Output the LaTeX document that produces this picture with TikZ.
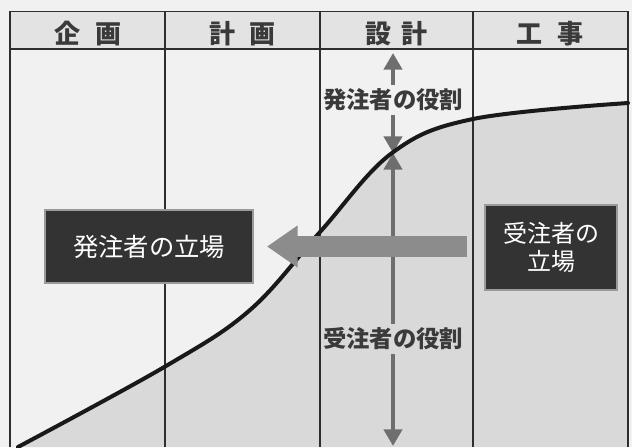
\documentclass[tikz,border=0pt]{standalone}
\usepackage{fontspec}
\newfontfamily\jp{Noto Sans CJK JP}
\usetikzlibrary{arrows.meta}
\definecolor{bgc}{HTML}{F1F1F1}
\definecolor{lowc}{HTML}{D9D9D9}
\definecolor{headc}{HTML}{E3E3E3}
\definecolor{framec}{HTML}{2E2E2E}
\definecolor{boxc}{HTML}{333333}
\definecolor{boxborder}{HTML}{9A9A9A}
\definecolor{bigarrc}{HTML}{8C8C8C}
\definecolor{varrc}{HTML}{6E6E6E}
\definecolor{labc}{HTML}{3A3A3A}
\tikzset{
  frameline/.style={draw=framec, line width=1.1pt},
  headtext/.style={font=\jp\bfseries\fontsize{19.5}{22}\selectfont, text=labc, inner sep=0pt},
  roletext/.style={font=\jp\bfseries\fontsize{17.5}{20}\selectfont, text=labc, inner sep=3pt},
  standbox/.style={draw=boxborder, line width=2.2pt, fill=boxc, text=white, align=center, inner sep=0pt},
  bigarrow/.style={draw=bigarrc, line width=15.75pt, -{Triangle[length=23pt,width=30pt]}},
  varrow/.style={draw=varrc, line width=3.6pt, -{Triangle[length=12.5pt,width=13.5pt]}},
  curveline/.style={draw=black!90, line width=3pt, line cap=round}
}
\def\curvepts{(18,447) (166,366) (250,310) (320,232) (392,153) (473,119) (628,103)}
\begin{document}
\begin{tikzpicture}[x=0.75pt,y=-0.75pt]
\useasboundingbox (0,0) rectangle (632,447);
\fill[bgc] (0,0) rectangle (632,447);
% header
\fill[headc] (10,11.5) rectangle (628,49);
% lower region below the curve
\fill[lowc] plot[smooth, tension=0.6] coordinates {\curvepts} -- (628,447) -- cycle;
% frame
\draw[frameline] (10,447) -- (10,11.5) -- (628,11.5) -- (628,447);
\draw[frameline] (10,49) -- (628,49);
\draw[frameline] (165,11.5) -- (165,447);
\draw[frameline] (320,11.5) -- (320,447);
\draw[frameline] (473,11.5) -- (473,447);
% header texts
\node[headtext] (h1) at (88,34) {企\hspace{0.55em}画};
\node[headtext] (h2) at (242.5,34) {計\hspace{0.55em}画};
\node[headtext] (h3) at (396.5,34) {設\hspace{0.4em}計};
\node[headtext] (h4) at (550,34) {工\hspace{0.55em}事};
% vertical role arrows
\node[roletext] (lab1) at (393,100) {発注者の役割};
\node[roletext] (lab2) at (393,339) {受注者の役割};
\coordinate (vtop) at (393,53);
\coordinate (vmid) at (393,153);
\coordinate (vbot) at (393,446);
\draw[varrow] (lab1) -- (vtop);
\draw[varrow] (lab1) -- (vmid);
\draw[varrow] (lab2) -- (vmid);
\draw[varrow] (lab2) -- (vbot);
% curve
\draw[curveline] plot[smooth, tension=0.6] coordinates {\curvepts};
% boxes
\node[standbox, minimum width=156pt, minimum height=54.75pt, font=\jp\fontsize{19}{22}\selectfont] (owner) at (149,246.5) {発注者の立場};
\node[standbox, minimum width=99pt, minimum height=63.75pt, font=\jp\fontsize{18}{21}\selectfont] (contractor) at (551,247.5) {受注者の\\立場};
% big arrow
\coordinate (ha1) at (467,246.5);
\coordinate (ha2) at (267,246.5);
\draw[bigarrow] (ha1) -- (ha2);
\end{tikzpicture}
\end{document}
